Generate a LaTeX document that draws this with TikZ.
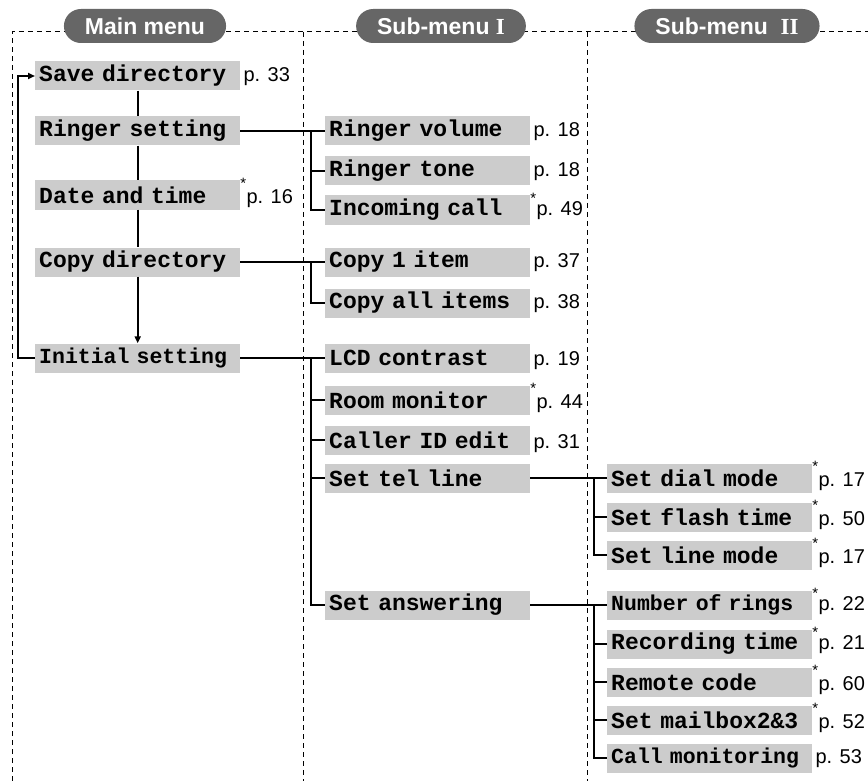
\documentclass[tikz,border=0pt]{standalone}
\usepackage{fontspec}
\setmainfont{Liberation Sans}
\newfontfamily\menumono{Liberation Mono}
\newfontfamily\menuroman{Liberation Serif}
\usetikzlibrary{arrows.meta}

\begin{document}
\begin{tikzpicture}[x=1pt, y=-1pt,
  menubox/.style={fill=\menuBoxColor, anchor=west, minimum height=29pt,
    text width=197pt, inner xsep=4pt, inner ysep=0pt, align=left,
    font=\menumono\bfseries\fontsize{23}{25}\selectfont},
  longbox/.style={menubox, font=\menumono\bfseries\fontsize{21.5}{25}\selectfont},
  pill/.style={fill=\menuPillColor, text=white, rounded corners=17pt,
    minimum height=34pt, inner xsep=21pt, inner ysep=0pt,
    font=\bfseries\fontsize{23}{26}\selectfont},
  pagenum/.style={anchor=base west, inner sep=0pt, font=\fontsize{20}{22}\selectfont},
  asterisk/.style={anchor=base, inner sep=0pt, font=\fontsize{15}{16}\selectfont},
  frameline/.style={line width=1pt, dash pattern=on 5pt off 4pt},
  mainline/.style={line width=2pt},
  treeline/.style={line width=1.3pt},
  tip/.style={-{Triangle[length=7pt,width=6pt]}}]
% Menu map drawn on a pixel grid (y grows downwards)
\providecommand{\menuBoxColor}{black!20}
\providecommand{\menuPillColor}{black!60}
\useasboundingbox (0,0) rectangle (868,781);
% Dashed column frame
\draw[frameline] (12,781) -- (12,32) -- (868,32);
\draw[frameline] (303,32) -- (303,781);
\draw[frameline] (587,32) -- (587,781);
% Column headings
\node[pill] (hmain) at (145,26) {Main menu};
\node[pill] (hsubI) at (441,26) {Sub-menu {\menuroman I}};
\node[pill] (hsubII) at (727,26) {Sub-menu\ \ {\menuroman II}};
% Main menu
\node[menubox] (save)    at (35,76)  {Save directory};
\node[menubox] (ringer)  at (35,131) {Ringer setting};
\node[menubox] (date)    at (35,195) {Date and time};
\node[menubox] (copy)    at (35,262) {Copy directory};
\node[longbox] (initial) at (35,358) {Initial setting};
% Sub-menu I
\node[menubox] (rvol)      at (325,131) {Ringer volume};
\node[menubox] (rtone)     at (325,171) {Ringer tone};
\node[menubox] (incall)    at (325,210) {Incoming call};
\node[menubox] (copyone)   at (325,262) {Copy 1 item};
\node[menubox] (copyall)   at (325,303) {Copy all items};
\node[menubox] (lcd)       at (325,358) {LCD contrast};
\node[menubox] (room)      at (325,400) {Room monitor};
\node[menubox] (callerid)  at (325,440) {Caller ID edit};
\node[menubox] (telline)   at (325,478) {Set tel line};
\node[menubox] (answering) at (325,605) {Set answering};
% Sub-menu II
\node[menubox] (dial)     at (607,478) {Set dial mode};
\node[menubox] (flash)    at (607,517) {Set flash time};
\node[menubox] (linemode) at (607,555) {Set line mode};
\node[longbox] (rings)    at (607,605) {Number of rings};
\node[menubox] (rectime)  at (607,644) {Recording time};
\node[menubox] (remote)   at (607,682) {Remote code};
\node[menubox] (mailbox)  at (607,720) {Set mailbox2\&3};
\node[longbox] (callmon)  at (607,758) {Call monitoring};
% Page references (a starred one sits a little further right)
\foreach \n/\p in {save/33, rvol/18, rtone/18, copyone/37, copyall/38,
    lcd/19, callerid/31, callmon/53}
  \node[pagenum] (p-\n) at ([xshift=3pt]\n.base east) {p. \p};
\foreach \n/\p in {date/16, incall/49, room/44, dial/17, flash/50,
    linemode/17, rings/22, rectime/21, remote/60, mailbox/52} {
  \node[pagenum] (p-\n) at ([xshift=6pt]\n.base east) {p. \p};
  \node[asterisk] (a-\n) at ([xshift=3pt,yshift=-8pt]\n.north east) {*};
}
% Main chain and return loop
\coordinate (loop) at (18,0);
\draw[mainline] (save.south) -- (ringer.north);
\draw[mainline] (ringer.south) -- (date.north);
\draw[mainline] (date.south) -- (copy.north);
\draw[mainline, tip] (copy.south) -- (initial.north);
\draw[mainline, tip] (initial.west) -- (initial.west -| loop)
  -- (save.west -| loop) -- (save.west);
% Branches into the sub-menus
\coordinate (trunkI) at (311,0);
\coordinate (trunkII) at (594,0);
\draw[treeline] (ringer.east) -- (rvol.west);
\draw[treeline] (rvol.west -| trunkI) -- (incall.west -| trunkI) -- (incall.west);
\draw[treeline] (rtone.west -| trunkI) -- (rtone.west);
\draw[treeline] (copy.east) -- (copyone.west);
\draw[treeline] (copyone.west -| trunkI) -- (copyall.west -| trunkI) -- (copyall.west);
\draw[treeline] (initial.east) -- (lcd.west);
\draw[treeline] (lcd.west -| trunkI) -- (answering.west -| trunkI) -- (answering.west);
\foreach \n in {room, callerid, telline}
  \draw[treeline] (\n.west -| trunkI) -- (\n.west);
\draw[treeline] (telline.east) -- (dial.west);
\draw[treeline] (dial.west -| trunkII) -- (linemode.west -| trunkII) -- (linemode.west);
\draw[treeline] (flash.west -| trunkII) -- (flash.west);
\draw[treeline] (answering.east) -- (rings.west);
\draw[treeline] (rings.west -| trunkII) -- (callmon.west -| trunkII) -- (callmon.west);
\foreach \n in {rectime, remote, mailbox}
  \draw[treeline] (\n.west -| trunkII) -- (\n.west);
\end{tikzpicture}
\end{document}
